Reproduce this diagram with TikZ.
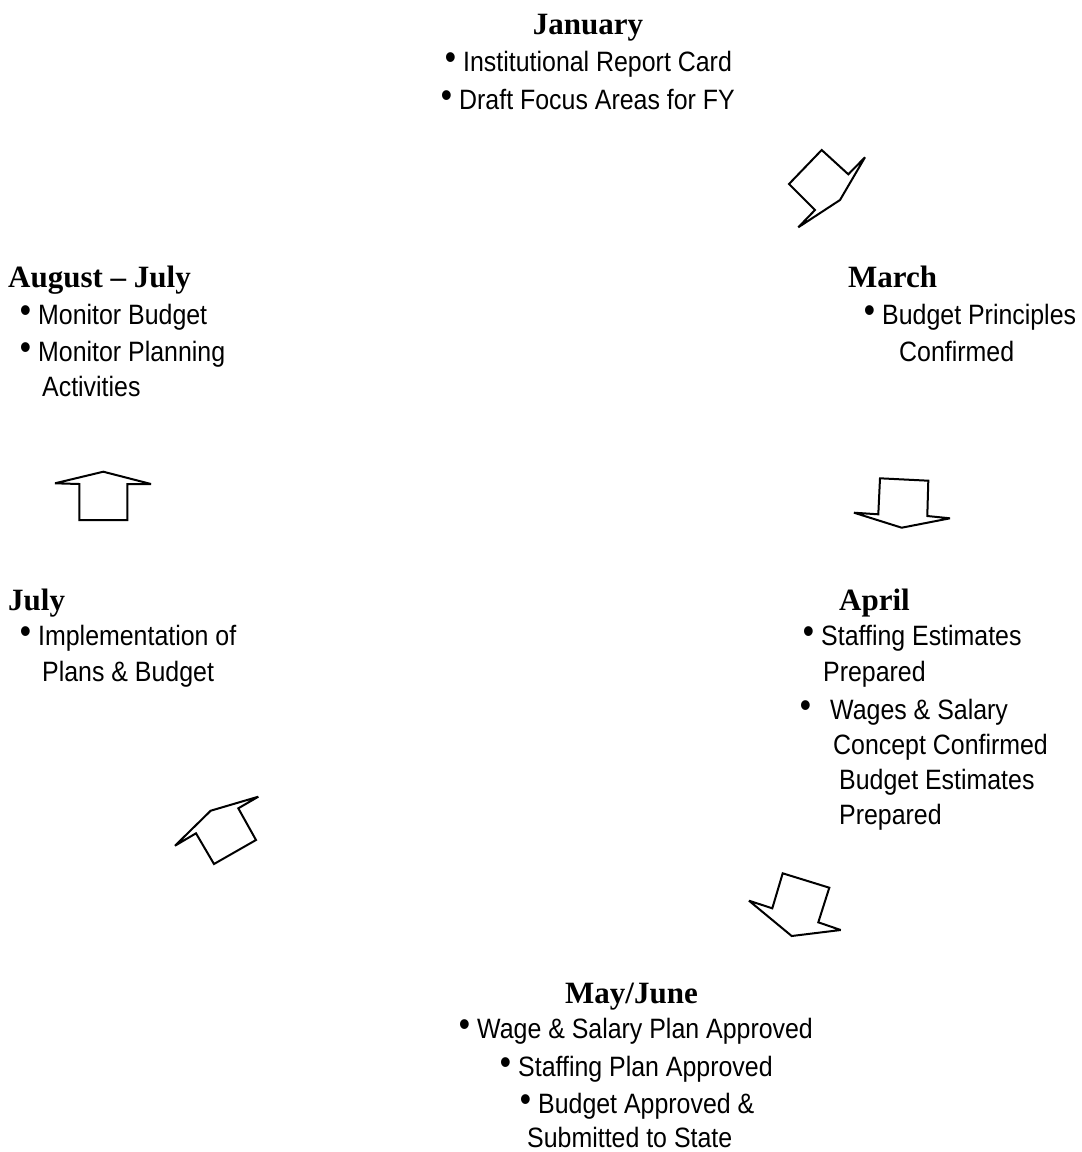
\documentclass[tikz,border=0pt]{standalone}
\usepackage{fontspec}
\setmainfont{Liberation Sans}[FakeStretch=0.89]
\newfontfamily\headfont{Liberation Serif}
\newcommand\bul{\raisebox{2pt}{\fontsize{36}{36}\selectfont •}}
\begin{document}
\begin{tikzpicture}[x=1pt,y=-1pt,
  head/.style={anchor=base,inner sep=0pt,font=\headfont\bfseries\fontsize{31}{34}\selectfont},
  headw/.style={anchor=base west,inner sep=0pt,font=\headfont\bfseries\fontsize{31}{34}\selectfont},
  item/.style={anchor=base west,inner sep=0pt,font=\fontsize{28}{30}\selectfont},
  arrowshape/.style={draw=black,line width=2pt,line join=miter,miter limit=3,fill=white}]
\useasboundingbox (0,0) rectangle (1082,1152);
% January
\node[head] (jan) at (588,34) {January};
\node[item] (jan1) at (463,71) {\llap{\bul\hspace{7pt}}Institutional Report Card};
\node[item] (jan2) at (459,109) {\llap{\bul\hspace{7pt}}Draft Focus Areas for FY};
% August - July
\node[headw] (aug) at (8,287) {August – July};
\node[item] (aug1) at (38,324) {\llap{\bul\hspace{7pt}}Monitor Budget};
\node[item] (aug2) at (38,361) {\llap{\bul\hspace{7pt}}Monitor Planning};
\node[item] (aug3) at (42,396) {Activities};
% March
\node[headw] (mar) at (848,287) {March};
\node[item] (mar1) at (882,324) {\llap{\bul\hspace{7pt}}Budget Principles};
\node[item] (mar2) at (899,361) {Confirmed};
% July
\node[headw] (jul) at (8,610) {July};
\node[item] (jul1) at (38,645) {\llap{\bul\hspace{7pt}}Implementation of};
\node[item] (jul2) at (42,681) {Plans \& Budget};
% April
\node[headw] (apr) at (839,610) {April};
\node[item] (apr1) at (821,645) {\llap{\bul\hspace{7pt}}Staffing Estimates};
\node[item] (apr2) at (823,681) {Prepared};
\node[item] (apr3) at (830,719) {\llap{\bul\hspace{19pt}}Wages \& Salary};
\node[item] (apr4) at (833,754) {Concept Confirmed};
\node[item] (apr5) at (839,789) {Budget Estimates};
\node[item] (apr6) at (839,824) {Prepared};
% May/June
\node[headw] (may) at (565,1003) {May/June};
\node[item] (may1) at (477,1038) {\llap{\bul\hspace{7pt}}Wage \& Salary Plan Approved};
\node[item] (may2) at (518,1076) {\llap{\bul\hspace{7pt}}Staffing Plan Approved};
\node[item] (may3) at (538,1113) {\llap{\bul\hspace{7pt}}Budget Approved \&};
\node[item] (may4) at (527,1147) {Submitted to State};
% block arrows
\draw[arrowshape] (821.7,150) -- (789,184) -- (815,210) -- (798.3,227.3) -- (840,200) -- (865,157.3) -- (848.3,174.3) -- cycle;
\draw[arrowshape] (880,478.3) -- (928.3,480.7) -- (927.3,516) -- (950,518.3) -- (901.7,527.7) -- (854,512.7) -- (878.3,514.3) -- cycle;
\draw[arrowshape] (782.7,873.3) -- (829.3,887.7) -- (818.3,922.3) -- (840.7,930) -- (791.7,936) -- (749,900.7) -- (772.3,908.3) -- cycle;
\draw[arrowshape] (258.3,796.7) -- (238.3,808.3) -- (256,840) -- (214,864) -- (196,833.3) -- (175,845.7) -- (210.7,810.7) -- cycle;
\draw[arrowshape] (55,483.3) -- (103.3,471.7) -- (151,484) -- (127.3,484) -- (127.3,520) -- (79.3,520) -- (79.3,484) -- cycle;
\end{tikzpicture}
\end{document}
